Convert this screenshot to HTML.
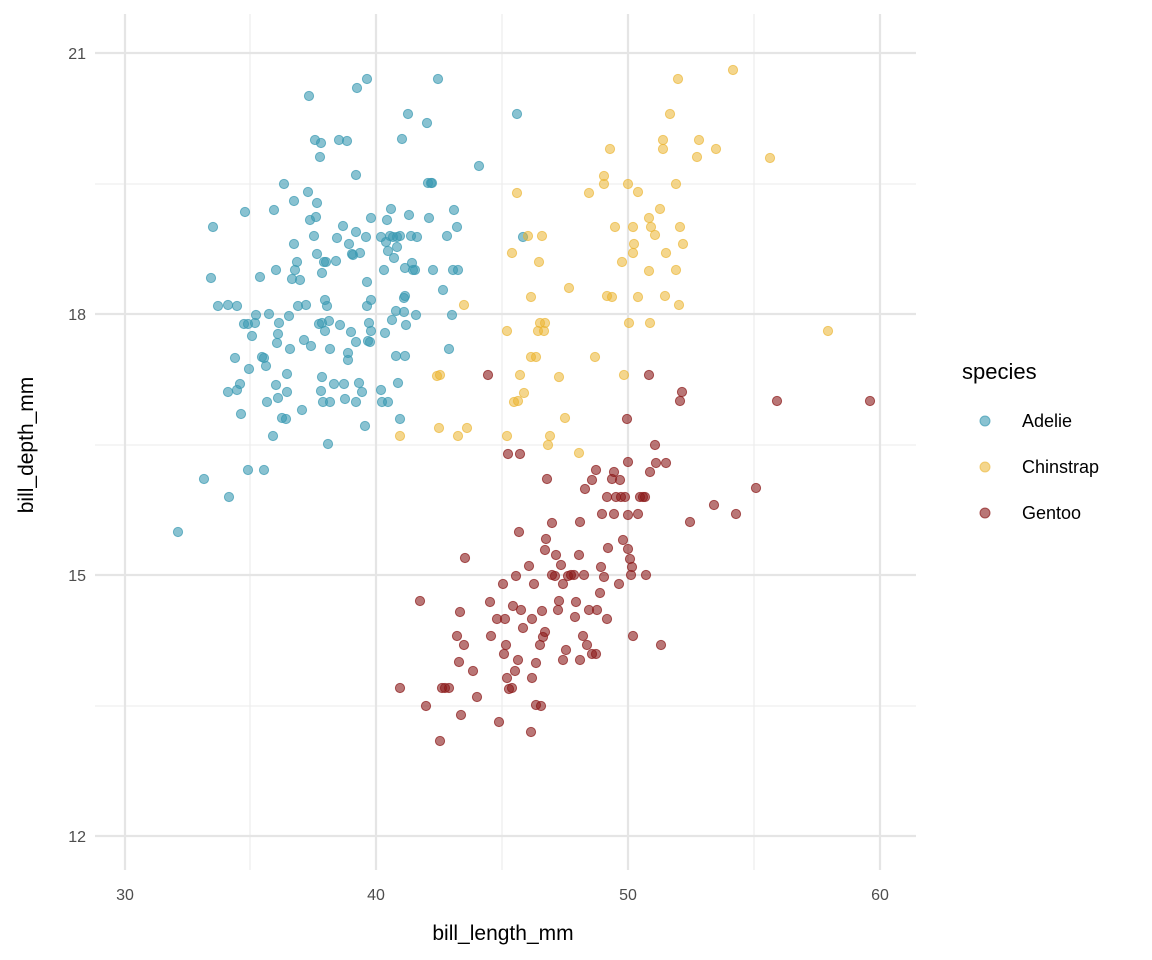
<!DOCTYPE html>
<html><head><meta charset="utf-8"><style>
html,body{margin:0;padding:0;background:#fff;}
svg{display:block;font-family:"Liberation Sans",sans-serif;}
</style></head><body>
<svg id="s" width="1152" height="960" xmlns="http://www.w3.org/2000/svg">
<rect width="1152" height="960" fill="#fff"/>
<g stroke="#EBEBEB" stroke-width="1.1">
<line x1="95" x2="916" y1="184" y2="184"/><line x1="95" x2="916" y1="445" y2="445"/><line x1="95" x2="916" y1="706" y2="706"/>
<line x1="250" x2="250" y1="14" y2="870"/><line x1="502" x2="502" y1="14" y2="870"/><line x1="754" x2="754" y1="14" y2="870"/>
</g>
<g stroke="#E5E5E5" stroke-width="2.2">
<line x1="95" x2="916" y1="53" y2="53"/><line x1="95" x2="916" y1="314" y2="314"/><line x1="95" x2="916" y1="575" y2="575"/><line x1="95" x2="916" y1="836" y2="836"/>
<line x1="125" x2="125" y1="14" y2="870"/><line x1="376" x2="376" y1="14" y2="870"/><line x1="628" x2="628" y1="14" y2="870"/><line x1="880" x2="880" y1="14" y2="870"/>
</g>
<g id="pts"></g>
<g fill="#4D4D4D" font-size="16" text-anchor="end">
<text x="86" y="59">21</text><text x="86" y="320">18</text><text x="86" y="581">15</text><text x="86" y="842">12</text>
</g>
<g fill="#4D4D4D" font-size="16" text-anchor="middle">
<text x="125" y="900">30</text><text x="376" y="900">40</text><text x="628" y="900">50</text><text x="880" y="900">60</text>
</g>
<text x="503" y="940" font-size="21" text-anchor="middle" fill="#000">bill_length_mm</text>
<text transform="translate(33,445) rotate(-90)" font-size="21" text-anchor="middle" fill="#000">bill_depth_mm</text>
<text x="962" y="379" font-size="22" fill="#000">species</text>
<circle cx="985" cy="421" r="5" fill="#3B9AB2" fill-opacity="0.6" stroke="#3B9AB2" stroke-opacity="0.7" stroke-width="1"/>
<circle cx="985" cy="467" r="5" fill="#EBB430" fill-opacity="0.55" stroke="#EBB430" stroke-opacity="0.6" stroke-width="1"/>
<circle cx="985" cy="513" r="5" fill="#8B1A1A" fill-opacity="0.6" stroke="#8B1A1A" stroke-opacity="0.7" stroke-width="1"/>
<g font-size="18" fill="#000"><text x="1022" y="427">Adelie</text><text x="1022" y="473">Chinstrap</text><text x="1022" y="519">Gentoo</text></g>
</svg>
<script>
var A=[[213,227],[178,532],[204,479],[228,392],[229,497],[255,323],[211,278],[228,305],[237,390],[237,306],[240,384],[241,414],[245,212],[256,315],[249,369],[248,470],[264,358],[266,366],[267,402],[269,314],[273,436],[274,210],[276,270],[277,343],[279,323],[276,385],[278,398],[282,418],[284,184],[286,419],[287,374],[287,392],[290,349],[289,316],[292,279],[294,201],[294,244],[295,270],[297,262],[298,306],[302,410],[306,305],[308,192],[310,220],[311,346],[314,236],[317,254],[316,217],[317,203],[319,324],[320,157],[321,143],[322,273],[321,391],[322,377],[323,402],[324,262],[325,300],[326,262],[327,306],[328,444],[329,321],[330,349],[330,402],[334,384],[336,261],[337,238],[340,325],[343,226],[344,384],[345,399],[347,141],[348,353],[348,360],[349,244],[351,332],[352,254],[353,255],[356,175],[356,402],[357,88],[359,383],[360,253],[362,392],[365,426],[366,237],[367,79],[367,306],[368,341],[369,323],[370,342],[371,218],[371,331],[371,300],[367,282],[381,237],[381,390],[382,402],[384,270],[385,333],[386,242],[387,220],[390,236],[391,209],[392,320],[393,237],[394,258],[396,356],[397,237],[400,419],[400,236],[402,139],[404,298],[405,268],[406,325],[408,114],[409,215],[411,236],[412,263],[413,270],[415,270],[416,315],[417,237],[427,123],[428,183],[429,218],[431,183],[432,183],[433,270],[443,290],[447,236],[449,349],[453,270],[454,210],[457,227],[458,270],[438,79],[479,166],[452,315],[523,237],[517,114],[405,296],[405,356],[404,312],[398,383],[388,402],[356,342],[356,232],[300,280],[262,357],[264,470],[244,324],[260,277],[309,96],[278,334],[252,336],[218,306],[396,311],[325,331],[388,251],[397,247],[235,358],[248,324],[315,140],[339,140],[322,323],[304,340]];
var C=[[733,70],[678,79],[670,114],[770,158],[610,149],[604,176],[604,184],[628,184],[638,192],[663,140],[676,184],[589,193],[517,193],[699,140],[716,149],[697,157],[660,209],[649,218],[651,227],[655,235],[634,244],[633,253],[615,227],[633,227],[512,253],[539,262],[542,236],[528,236],[680,227],[683,244],[666,253],[676,270],[622,262],[612,297],[638,297],[531,297],[569,288],[649,271],[665,296],[679,305],[464,305],[507,331],[540,323],[545,323],[538,331],[544,331],[531,357],[536,357],[559,377],[520,375],[514,402],[518,401],[524,393],[595,357],[624,375],[565,418],[550,436],[548,445],[507,436],[579,453],[440,375],[437,376],[467,428],[439,428],[400,436],[458,436],[629,323],[650,323],[828,331],[663,149],[607,296]];
var G=[[440,741],[449,688],[461,715],[426,706],[400,688],[420,601],[445,688],[442,688],[459,662],[457,636],[464,645],[465,558],[460,612],[473,671],[477,697],[490,602],[491,636],[497,619],[499,722],[504,654],[505,619],[503,584],[507,678],[509,689],[513,606],[512,688],[515,671],[516,576],[518,660],[519,532],[521,610],[523,628],[520,454],[529,566],[531,732],[532,678],[532,619],[534,584],[536,663],[541,706],[540,645],[542,611],[545,550],[545,632],[547,479],[546,539],[552,523],[552,575],[555,576],[558,610],[559,601],[561,565],[563,660],[563,584],[566,650],[568,576],[571,575],[574,575],[576,602],[579,555],[580,522],[583,636],[585,489],[587,645],[589,610],[592,480],[596,470],[597,610],[600,593],[601,567],[602,514],[604,577],[607,497],[607,619],[608,548],[612,479],[614,514],[614,472],[619,584],[616,497],[620,480],[621,497],[625,497],[627,419],[628,515],[628,549],[628,462],[630,559],[631,575],[632,567],[633,636],[638,514],[640,497],[643,497],[646,575],[649,375],[655,445],[656,463],[666,463],[680,401],[682,392],[690,522],[714,505],[736,514],[756,488],[777,401],[870,401],[661,645],[543,637],[506,645],[488,375],[508,454],[536,705],[556,555],[580,660],[592,654],[596,654],[645,497],[650,472],[623,540],[575,617],[584,575]];
var ns="http://www.w3.org/2000/svg",g=document.getElementById("pts");
function add(arr,col,op){arr.forEach(function(p){var c=document.createElementNS(ns,"circle");c.setAttribute("cx",p[0]);c.setAttribute("cy",p[1]);c.setAttribute("r",4.6);c.setAttribute("fill",col);c.setAttribute("fill-opacity",op);c.setAttribute("stroke",col);c.setAttribute("stroke-opacity",op+0.1);c.setAttribute("stroke-width",1);g.appendChild(c);});}
add(A,"#3B9AB2",0.6);add(C,"#EBB430",0.55);add(G,"#8B1A1A",0.6);
</script>
</body></html>
